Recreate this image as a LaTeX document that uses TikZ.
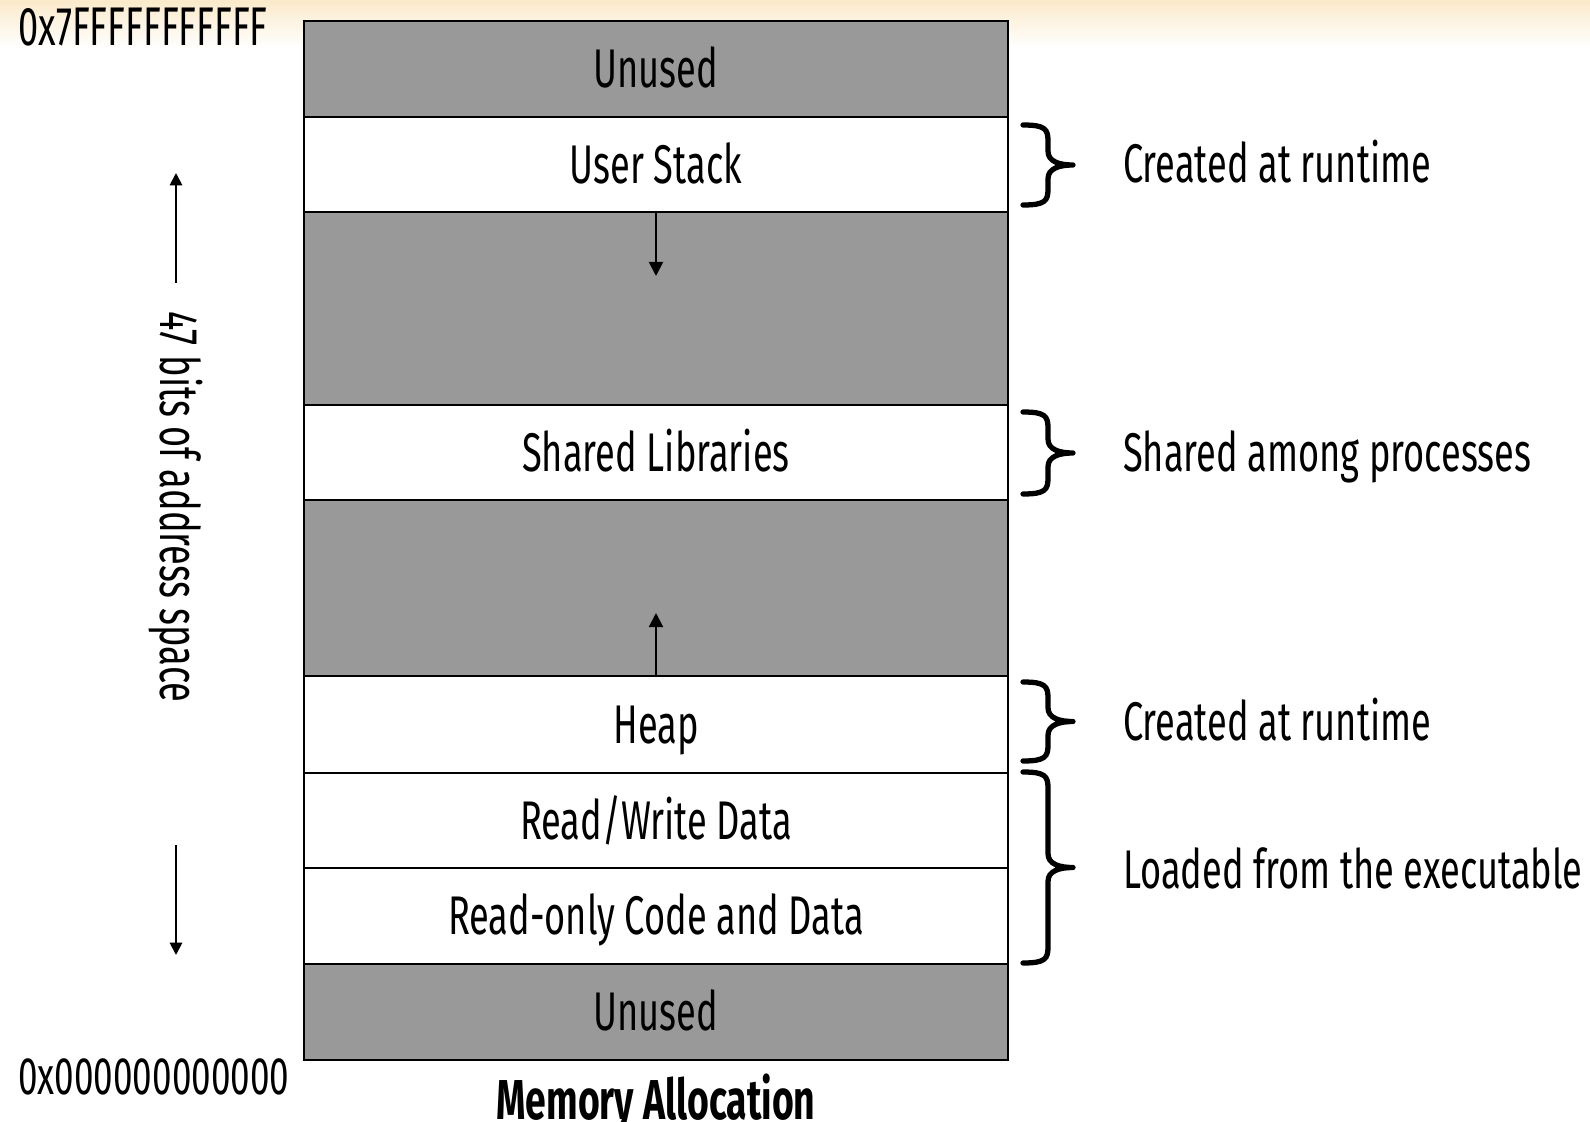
\documentclass[tikz,border=0pt]{standalone}
\usepackage{fontspec}
\setmainfont[FakeStretch=0.665]{Fira Sans}
\usetikzlibrary{arrows.meta,positioning}
\definecolor{memgray}{HTML}{999999}
\definecolor{headcream}{HTML}{FBEACB}

% curly brace on the right of the block: top, bottom (in px)
\newcommand{\memBrace}[2]{%
  \pgfmathsetmacro{\bmid}{(#1+#2)/2}
  \draw[line width=3pt, line cap=round, line join=round]
    (1023,#1) .. controls (1045,#1) and (1048,#1+4) .. (1048,#1+16)
    -- (1048,\bmid-14) .. controls (1048,\bmid-3) and (1060,\bmid) .. (1073,\bmid)
    .. controls (1060,\bmid) and (1048,\bmid+3) .. (1048,\bmid+14)
    -- (1048,#2-16) .. controls (1048,#2-4) and (1045,#2) .. (1023,#2);
}

\begin{document}
\begin{tikzpicture}[
    x=0.02cm, y=-0.02cm,
    >={Triangle[length=8pt,width=8pt]},
    region/.style={draw, line width=1.2pt, minimum width=14.08cm,
      inner sep=0pt, outer sep=0pt, text height=21.4pt, text depth=0pt,
      font=\fontsize{31}{36}\selectfont},
    used/.style={region, fill=white},
    free/.style={region, fill=memgray},
    note/.style={anchor=base west, font=\fontsize{31}{36}\selectfont},
    addr/.style={anchor=west, inner sep=0pt, font=\fontsize{30}{34}\selectfont},
  ]

  \useasboundingbox (0,0) rectangle (1590,1122);
  \shade[top color=headcream, bottom color=white, draw=none]
    (0,0) rectangle (1590,48);

  % Memory regions, top to bottom
  \node[free, minimum height=1.92cm] (unusedtop) at (656,69) {Unused};
  \node[used, minimum height=1.9cm, below=0pt of unusedtop] (stack) {User Stack};
  \node[free, minimum height=3.86cm, below=0pt of stack] (stackgap) {};
  \node[used, minimum height=1.9cm, below=0pt of stackgap] (shlib) {Shared Libraries};
  \node[free, minimum height=3.52cm, below=0pt of shlib] (heapgap) {};
  \node[used, minimum height=1.94cm, below=0pt of heapgap] (heap) {Heap};
  \node[used, minimum height=1.9cm, below=0pt of heap] (rwdata) {Read/Write Data};
  \node[used, minimum height=1.92cm, below=0pt of rwdata] (rodata) {Read-only Code and Data};
  \node[free, minimum height=1.92cm, below=0pt of rodata] (unusedbot) {Unused};

  % Growth directions
  \coordinate (stackend) at (656,276);
  \coordinate (heapend) at (656,613);
  \draw[line width=1.1pt, ->] (stack.south) -- (stackend);
  \draw[line width=1.1pt, ->] (heap.north) -- (heapend);

  % Address space span
  \node[rotate=-90, inner sep=0pt, font=\fontsize{31}{36}\selectfont]
    (span) at (176,507) {47 bits of address space};
  \coordinate (spanup) at (176,283);
  \coordinate (spantop) at (176,173);
  \coordinate (spandown) at (176,845);
  \coordinate (spanbot) at (176,955);
  \draw[line width=1.1pt, -{Triangle[length=7pt,width=7pt]}] (spanup) -- (spantop);
  \draw[line width=1.1pt, -{Triangle[length=7pt,width=7pt]}] (spandown) -- (spanbot);

  % Addresses
  \node[addr, font=\fontsize{31}{34}\selectfont] (hiaddr) at (18,27) {0x7FFFFFFFFFFF};
  \node[addr] (loaddr) at (18,1077) {0x000000000000};

  % Braces and notes
  \memBrace{125}{205}
  \memBrace{412}{494}
  \memBrace{682}{761}
  \memBrace{772}{963}
  \node[note] (stacknote) at (1117,183) {Created at runtime};
  \node[note] (libnote) at (1117,471) {Shared among processes};
  \node[note] (heapnote) at (1117,740) {Created at runtime};
  \node[note] (loadnote) at (1117,888) {Loaded from the executable};

  % Caption
  \node[anchor=base, font=\fontsize{32}{36}\selectfont\bfseries]
    (caption) at (656,1119) {Memory Allocation};

\end{tikzpicture}
\end{document}
